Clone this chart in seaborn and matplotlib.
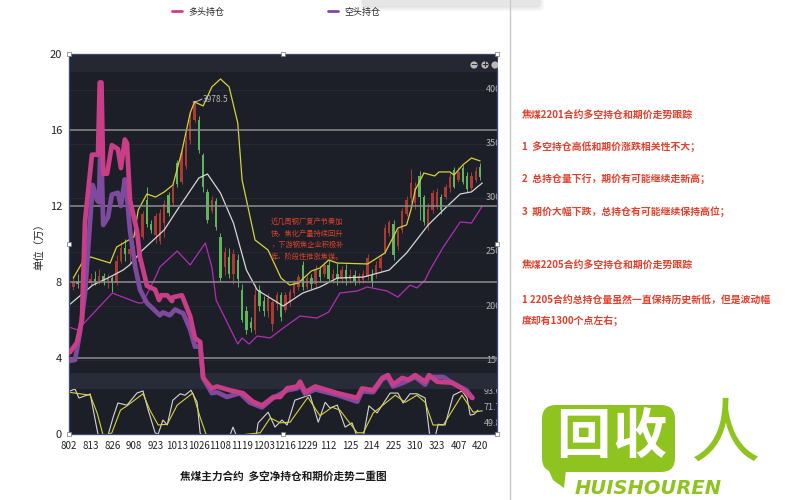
import pandas as pd
import seaborn as sns
import matplotlib.pyplot as plt
from matplotlib.patches import FancyBboxPatch, Polygon, Circle

# Tick labels sit every 5 sessions
date_labels = ['802', '813', '826', '908', '923', '1013', '1026', '1108', '1119', '1203',
               '1216', '1229', '112', '125', '214', '225', '310', '323', '407', '420']

# Long / short positions (left axis, 10k lots)
long_x = [0.2, 1.8, 3, 3.2, 3.7, 5.3, 6.7, 7.1, 7.5, 7.9, 8.8, 9.9, 11.3, 12, 12.9, 13.4, 14.1, 15.7, 16.4, 17.6,
          18, 19.9, 20.8, 21.3, 22.7, 23.8, 24, 26.1, 28, 29.1, 30.3, 31, 33, 34.2, 37.2, 40.2, 42.5, 44.6, 47.2,
          48.8, 50.4, 52.7, 53.4, 54.6, 56.9, 62, 66.6, 67.7, 70.3, 72.4, 73.7, 74.9, 77, 78.4, 80, 82.3, 83.2,
          85.1, 88.5, 90.8, 93.2]
long_pos = [4.3, 4.8, 6, 7.6, 11.2, 14.7, 14.7, 18.5, 18.5, 13.7, 13.7, 15.2, 15, 14, 15.5, 15.3, 12.3, 10.7, 9.3, 8.2,
            7.8, 7.6, 7.05, 7.3, 7.3, 7, 7.2, 7.3, 6.2, 5.05, 4.85, 2.95, 2.4, 2.5, 2.3, 2.15, 1.7, 1.5, 1.95,
            1.95, 2.4, 2.5, 2.75, 2.2, 2.5, 2.15, 1.9, 2.4, 2.3, 2.95, 3.1, 2.6, 2.95, 2.85, 3.1, 2.75, 3.1,
            2.75, 2.7, 2.4, 1.9]
short_x = [0.2, 1.4, 2.5, 3.7, 4.9, 5.5, 6.5, 6.9, 7.2, 7.5, 7.9, 9, 9.9, 11.3, 12, 12.9, 13.4, 14.1, 15.3, 16.4,
           18, 21, 21.7, 23.3, 24.5, 26.4, 28, 29.1, 30.3, 31, 33, 34.2, 36.5, 39.5, 41.8, 44.6, 47.2, 50.4, 52.7,
           53.4, 54.6, 56.9, 62, 66.6, 67.7, 70.3, 72.4, 73.7, 74.9, 77.2, 80, 82.3, 83.2, 86.5, 88.5, 91.9, 93.2]
short_pos = [3.85, 3.9, 5.3, 7.4, 11.3, 13.1, 12.3, 12.2, 14.6, 14.6, 11, 11.4, 12.6, 12.7, 12, 13.4, 12.5, 10.7, 8.8, 7.6,
             6.9, 6.25, 6.4, 6.25, 6.55, 6.35, 5.5, 4.6, 4.6, 2.95, 2.15, 2.2, 1.95, 2.15, 1.65, 1.4, 1.9, 2.3, 2.4,
             2.6, 2.1, 2.35, 2.05, 1.7, 2.25, 2.2, 2.9, 3.0, 2.5, 2.7, 3.0, 2.6, 3.0, 3.0, 2.7, 2.3, 1.9]

# Moving averages on the price scale
ma_yellow_x = [1, 3, 5, 9.5, 11, 15, 16, 18, 20, 22, 24, 26, 28, 29, 31, 33, 35, 37, 39, 40, 43, 46, 49, 51, 53,
               56, 58, 60, 62, 69, 73, 76, 78, 79, 80, 82, 84.5, 85.5, 88, 89, 91, 93, 95]
ma_yellow = [2259, 2398, 2454, 2398, 2546, 2639, 2889, 3037, 3009, 3056, 3120, 3417, 3787, 3889, 3852, 4028, 4102, 4028,
             3694, 3167, 2611, 2518, 2259, 2194, 2213, 2324, 2352, 2426, 2398, 2389, 2491, 2722, 2750, 2889, 3074, 3231,
             3204, 3241, 3241, 3213, 3306, 3370, 3343]
ma_white_x = [0, 5.5, 9, 12.5, 14, 17, 22, 25, 30, 32, 35, 38, 41, 43.5, 46.5, 49.5, 54, 58, 62, 68, 74, 78, 83,
              86.5, 90.4, 93, 95.5]
ma_white = [2009, 2194, 2259, 2333, 2380, 2518, 2704, 2889, 3185, 3222, 3046, 2768, 2333, 2148, 2074, 2000, 2120, 2176,
            2259, 2268, 2333, 2491, 2750, 2889, 3037, 3056, 3139]
ma_magenta_x = [0, 2, 10, 16, 17, 20, 21, 25, 28, 31.5, 33, 34, 39, 40, 41.6, 43.5, 46.5, 49.5, 53.4, 57.3, 60, 62.6,
                66.6, 68.9, 73.5, 76, 78.8, 80.4, 82.3, 83.4, 86.5, 90.4, 93, 95.5]
ma_magenta = [1805, 1778, 2120, 2028, 2028, 2268, 2361, 2509, 2380, 2583, 2361, 2055, 1648, 1704, 1648, 1722, 1704, 1796,
              1907, 1889, 1944, 2120, 2139, 2176, 2139, 2083, 2194, 2167, 2241, 2333, 2546, 2778, 2768, 2926]

# Daily candles: open, close, high, low
candles = [
    (2230, 2180, 2290, 2120), (2180, 2230, 2270, 2150), (2230, 2200, 2300, 2170), (2200, 2260, 2320, 2170),
    (2260, 2210, 2300, 2180), (2210, 2250, 2310, 2190), (2250, 2230, 2320, 2190), (2230, 2280, 2340, 2200),
    (2280, 2230, 2310, 2190), (2230, 2260, 2300, 2170), (2260, 2210, 2280, 2130), (2210, 2420, 2470, 2190),
    (2420, 2540, 2590, 2400), (2540, 2480, 2620, 2420), (2480, 2530, 2580, 2400), (2530, 2440, 2560, 2400),
    (2440, 2640, 2660, 2420), (2640, 2850, 2880, 2620), (2980, 2760, 3100, 2730), (2760, 2700, 2800, 2680),
    (2660, 2830, 2860, 2580), (2600, 2860, 2900, 2570), (2770, 2940, 2980, 2640), (3030, 2860, 3060, 2830),
    (2950, 3100, 3130, 2930), (3320, 3130, 3350, 3100), (3150, 3420, 3450, 3130), (3300, 3540, 3600, 3270),
    (3540, 3720, 3800, 3500), (3720, 3880, 3900, 3700), (3720, 3440, 3760, 3420), (3400, 3100, 3420, 3060),
    (3055, 2796, 3080, 2770), (2880, 2980, 3020, 2860), (2970, 2730, 3000, 2700), (2640, 2260, 2680, 2230),
    (2360, 2500, 2550, 2290), (2450, 2300, 2540, 2260), (2300, 2480, 2530, 2200), (2430, 2250, 2480, 2180),
    (2150, 1870, 2200, 1850), (1950, 1780, 2000, 1740), (1850, 1800, 1900, 1760), (1780, 2100, 2200, 1740),
    (2150, 2000, 2190, 1950), (2050, 1950, 2090, 1910), (1950, 2070, 2120, 1900), (1830, 2040, 2060, 1770),
    (2020, 2100, 2130, 1960), (2100, 1900, 2130, 1860), (1960, 2100, 2130, 1940), (2030, 2130, 2160, 2000),
    (2120, 2210, 2240, 2090), (2180, 2270, 2300, 2150), (2380, 2180, 2420, 2150), (2180, 2260, 2290, 2160),
    (2260, 2200, 2300, 2160), (2200, 2330, 2380, 2170), (2330, 2270, 2370, 2220), (2300, 2380, 2410, 2270),
    (2380, 2250, 2430, 2220), (2250, 2300, 2340, 2210), (2300, 2250, 2400, 2190), (2250, 2330, 2370, 2210),
    (2330, 2250, 2390, 2190), (2250, 2290, 2340, 2210), (2290, 2230, 2330, 2190), (2230, 2280, 2310, 2200),
    (2240, 2300, 2330, 2210), (2270, 2440, 2480, 2240), (2290, 2220, 2340, 2180), (2300, 2380, 2420, 2260),
    (2350, 2440, 2480, 2320), (2500, 2720, 2760, 2480), (2680, 2780, 2800, 2650), (2760, 2470, 2800, 2430),
    (2560, 2690, 2710, 2520), (2700, 2880, 2910, 2680), (2850, 2980, 3020, 2830), (3000, 3140, 3270, 2960),
    (2950, 3090, 3150, 2900), (3200, 3010, 3250, 2800), (3010, 2780, 3030, 2750), (2730, 2900, 2950, 2700),
    (2890, 3050, 3070, 2860), (2920, 3060, 3090, 2900), (3010, 2890, 3040, 2850), (3010, 3100, 3130, 2990),
    (3090, 3190, 3230, 3060), (3260, 3100, 3290, 3090), (3170, 3240, 3290, 3150), (3280, 3150, 3310, 3130),
    (3200, 3080, 3240, 3060), (3090, 3200, 3240, 3070), (3170, 3250, 3290, 3150), (3290, 3195, 3320, 3170),
]

# Oscillator in the lower panel
osc_white_x = [0.2, 1.4, 2.3, 4.9, 6.5, 6.9, 8.8, 10.2, 11.3, 13.4, 15.7, 17.1, 18.3, 19.9, 20.6, 21.7, 22.7, 24, 25.7,
               26.8, 28.2, 29.6, 30.3, 31, 36.8, 37.9, 38.8, 43.2, 43.7, 46, 47.6, 49.2, 50.4, 52.2, 55, 55.7, 57.6,
               59.2, 60.3, 62, 63.8, 65.4, 66.6, 68, 69.3, 71.2, 74.2, 76, 77.2, 78.8, 80.4, 82.3, 83.4, 84.6, 85.3,
               86.9, 88.8, 90.8, 92, 92.7, 93.6, 94.5]
osc_white = [94.9, 97.7, 85, 90.7, 40, 28, 28, 58, 78, 75, 92, 95, 68, 36, 34, 54, 47, 82, 91,
             89, 96, 79, 36, 26, 26, 44, 30, 30, 50, 65, 44, 54, 47, 82, 88, 89, 51,
             79, 71, 75, 44, 50, 30, 30, 74, 64, 92, 92, 78, 91, 91, 85, 30, 30, 48,
             47, 89, 95, 85, 61, 62, 68]
osc_yellow_x = [0.2, 2.5, 4.9, 6.5, 8, 9.9, 11.9, 13.4, 17.1, 18.7, 20.6, 22.7, 25, 28.6, 30.3, 32, 44.2, 46.5, 48.8,
                51.1, 55.2, 58, 60.8, 62.6, 66.6, 68, 70.3, 75.4, 77.7, 80.4, 82.3, 84.1, 86.5, 90.8, 93.4, 95.5]
osc_yellow = [93, 91, 89, 64, 30, 36, 68, 74, 91, 68, 47, 48, 75, 92, 58, 28, 36, 57, 50,
              51, 86, 60, 72, 68, 36, 36, 64, 89, 79, 89, 79, 47, 47, 89, 65, 67]

price_labels = ['4000', '3500', '3000', '2500', '2000', '1500']
price_levels = [4000, 3500, 3000, 2500, 2000, 1500]
osc_labels = ['93.6', '71.7', '49.8']
osc_levels = [93.6, 71.7, 49.8]

note_lines = ['近几周钢厂复产节奏加', '快，焦化产量持续回升', '，下游钢焦企业积极补', '库，阶段性推涨焦煤。']
side_lines = [('焦煤2201合约多空持仓和期价走势跟踪', 115), ('1  多空持仓高低和期价涨跌相关性不大；', 147),
              ('2  总持仓量下行，期价有可能继续走新高；', 179), ('3  期价大幅下跌，总持仓有可能继续保持高位；', 212),
              ('焦煤2205合约多空持仓和期价走势跟踪', 265), ('1 2205合约总持仓量虽然一直保持历史新低，但是波动幅', 301),
              ('度却有1300个点左右；', 321)]

sns.set_theme(style='white')
plt.rcParams['font.family'] = ['Noto Sans CJK SC', 'DejaVu Sans']

DARK = '#1c1f27'
PINK = '#c83f88'
PURPLE = '#7d4a9e'
RED_TXT = '#e2402c'
GREEN = '#8fc31f'

fig = plt.figure(figsize=(8, 5), dpi=100, facecolor='white')
ax = fig.add_axes([69 / 800, 66 / 500, 428 / 800, 380 / 500])
ax_price = ax.twinx()
ax_osc = ax.twinx()
ax.set_zorder(3)
ax_osc.set_zorder(2)
ax_price.set_zorder(1)
ax.patch.set_visible(False)
ax_osc.patch.set_visible(False)
ax_price.patch.set_visible(True)
ax_price.set_facecolor(DARK)

xmax = 98.9
for a in (ax, ax_price, ax_osc):
    a.set_xlim(0, xmax)
ax.set_ylim(0, 20)
ax_price.set_ylim(815, 4333)
ax_osc.set_ylim(34.3, 570)
ax_price.set_yticks([])
ax_osc.set_yticks([])
ax_price.grid(False)
ax_osc.grid(False)

# Candles
cdf = pd.DataFrame(candles, columns=['open', 'close', 'high', 'low'])
cdf['session'] = cdf.index
cdf['color'] = ['#a93a34' if c >= o else '#5fb45c' for o, c in zip(cdf['open'], cdf['close'])]
for p in price_levels:
    ax_price.axhline(p, color='#272a33', lw=0.7, zorder=1)
ax_price.vlines(cdf['session'], cdf['low'], cdf['high'], colors=cdf['color'], lw=0.7, zorder=2)
ax_price.bar(cdf['session'], (cdf['close'] - cdf['open']).abs(), bottom=cdf[['open', 'close']].min(axis=1),
             width=0.55, color=cdf['color'], lw=0, zorder=2)

# Moving averages
sns.lineplot(x=ma_magenta_x, y=ma_magenta, ax=ax_price, color='#b32db5', lw=0.9, sort=False, estimator=None, zorder=3)
sns.lineplot(x=ma_white_x, y=ma_white, ax=ax_price, color='#d6d6d6', lw=0.9, sort=False, estimator=None, zorder=3)
sns.lineplot(x=ma_yellow_x, y=ma_yellow, ax=ax_price, color='#d8d23a', lw=0.9, sort=False, estimator=None, zorder=3)
ax_price.set_xlabel('')
ax_price.set_ylabel('')
ax_price.set_yticks([])

# Oscillator
sns.lineplot(x=osc_white_x, y=osc_white, ax=ax_osc, color='#d6d6d6', lw=0.8, sort=False, estimator=None)
sns.lineplot(x=osc_yellow_x, y=osc_yellow, ax=ax_osc, color='#d8d23a', lw=0.8, sort=False, estimator=None)
ax_osc.set_xlabel('')
ax_osc.set_ylabel('')
ax_osc.set_yticks([])

# Lighter bands of the pasted chart and the grid of the outer one
ax.axhspan(19.05, 20, color='#252832', lw=0, zorder=0)
ax.axhspan(2.37, 3.2, color='#282b38', lw=0, zorder=0)
for g in [4, 8, 12, 16]:
    ax.axhline(g, color='#8e8e8e', lw=1.1, zorder=1)

sns.lineplot(x=short_x, y=short_pos, ax=ax, color=PURPLE, lw=3.4, sort=False, estimator=None,
             label='空头持仓', zorder=4)
sns.lineplot(x=long_x, y=long_pos, ax=ax, color=PINK, lw=3.4, sort=False, estimator=None,
             label='多头持仓', zorder=5)

ax.set_xticks(range(0, 100, 5))
ax.set_xticklabels(date_labels, fontsize=7, color='#222222')
ax.set_yticks([0, 4, 8, 12, 16, 20])
ax.set_yticklabels(['0', '4', '8', '12', '16', '20'], fontsize=8, color='#222222')
ax.tick_params(length=0, pad=5)
ax.set_xlabel('')
ax.set_ylabel('单位（万）', fontsize=7.5, color='#222222', labelpad=3)
for a in (ax, ax_price, ax_osc):
    for s in a.spines.values():
        s.set_color('#3c4a78')
        s.set_linewidth(0.8)

handles, labels = ax.get_legend_handles_labels()
ax.legend_.remove()
leg = fig.legend(handles[::-1], labels[::-1], ncol=2, loc='center', bbox_to_anchor=(276 / 800, 1 - 12 / 500),
                 frameon=False, fontsize=6.5, handlelength=1.1, columnspacing=11.5, handletextpad=0.7)
leg.set_zorder(20)
for h in leg.get_lines():
    h.set_linewidth(2)

# Scale labels of the pasted chart, cut off at the edge
xf = lambda x: (x - 69) / 428
for lab, lvl in zip(price_labels, price_levels):
    ax_price.text(xf(486), lvl, lab, transform=ax_price.get_yaxis_transform(), color='#b4b4b4', fontsize=6.5,
                  va='center', clip_on=True, zorder=6)
for lab, lvl in zip(osc_labels, osc_levels):
    ax_osc.text(xf(484), lvl, lab, transform=ax_osc.get_yaxis_transform(), color='#b4b4b4', fontsize=6.5,
                va='center', clip_on=True, zorder=6)

# Everything else is placed in picture pixels
ov = fig.add_axes([0, 0, 1, 1], zorder=10)
ov.set_xlim(0, 800)
ov.set_ylim(500, 0)
ov.axis('off')
ov.patch.set_visible(False)

ov.plot([510, 510], [0, 500], color='#c9c9c9', lw=1)

for pad, shade in [(4, '#f6f6f6'), (2, '#eeeeee')]:
    ov.add_patch(FancyBboxPatch((363 - pad, -20), 177 + 2 * pad, 27 + pad, boxstyle='round,pad=0,rounding_size=5',
                                fc=shade, ec='none'))
ov.add_patch(FancyBboxPatch((363, -20), 177, 27, boxstyle='round,pad=0,rounding_size=5', fc='#e6e6e6', ec='#dddddd', lw=0.5))

# Selection handles round the pasted chart
hx = [69, 283, 497, 69, 497, 69, 283, 497]
hy = [54, 54, 54, 244, 244, 434, 434, 434]
ov.scatter(hx, hy, marker='s', s=9, facecolor='white', edgecolor='#777777', lw=0.5, zorder=8)

# Zoom buttons
for cx, sign in [(474, '−'), (485, '+'), (495, '')]:
    ov.add_patch(Circle((cx, 65), 3.6, fc='#b9b9b9', ec='none'))
    ov.text(cx, 64.7, sign, color='#2a2a2a', fontsize=6, ha='center', va='center', family='DejaVu Sans', weight='bold')
ov.add_patch(plt.Rectangle((497.5, 60), 4, 10, fc='white', ec='none'))

ov.plot([193, 198, 202], [102, 101, 99], color='#c4c4c4', lw=0.7)
ov.text(203, 99.5, '3978.5', color='#b8b8b8', fontsize=6, va='center')

for i, line in enumerate(note_lines):
    ov.text(271, 222 + i * 11.7, line, color='#d9432c', fontsize=5.2, va='center')

ov.text(283, 477, '焦煤主力合约  多空净持仓和期价走势二重图', fontsize=7.7, weight='bold', ha='center', va='center',
        color='#1a1a1a')

for line, y in side_lines:
    ov.text(522, y, line, fontsize=7.1, weight='bold', color=RED_TXT, va='center')

# Logo
ov.add_patch(FancyBboxPatch((552, 415), 113, 47, boxstyle='round,pad=10,rounding_size=14', fc=GREEN, ec='none'))
ov.add_patch(Polygon([(543, 440), (566, 470), (564, 488), (553, 480), (545, 462)], fc=GREEN, ec='none'))
ov.text(583, 438, '回', color='white', fontsize=39, weight='bold', ha='center', va='center')
ov.text(639, 438, '收', color='white', fontsize=39, weight='bold', ha='center', va='center')
ov.text(725, 436, '人', color=GREEN, fontsize=50, weight='normal', ha='center', va='center')
ov.text(648, 488, 'HUISHOUREN', color=GREEN, fontsize=14, weight='bold', style='italic', ha='center', va='center',
        family='DejaVu Sans')

fig.savefig('out.png', dpi=100)
